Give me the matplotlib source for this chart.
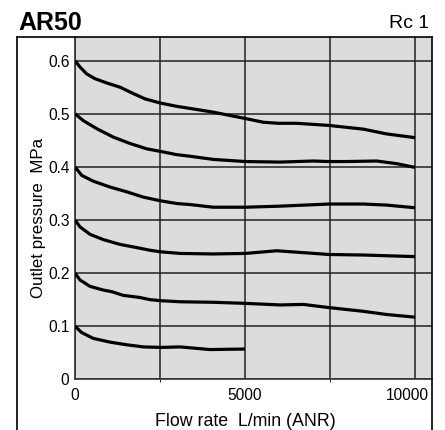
import matplotlib
matplotlib.use("Agg")
import matplotlib.pyplot as plt
import matplotlib.transforms as mtrans
from matplotlib.lines import Line2D
from matplotlib import rcParams

rcParams.update({"font.family": ["Liberation Sans", "DejaVu Sans"], "font.size": 10})

# (flow L/min, outlet pressure MPa), one curve per set pressure
flow_06 = [0, 147, 343, 588, 931, 1324, 1716, 2059, 2520, 2990, 3088, 4068, 5010, 5539, 5980,
           6520, 7471, 8480, 9167, 10000]
p_06 = [0.600, 0.588, 0.575, 0.566, 0.558, 0.550, 0.538, 0.528, 0.520, 0.514, 0.513, 0.503,
        0.491, 0.484, 0.482, 0.482, 0.478, 0.471, 0.462, 0.455]
flow_05 = [0, 245, 637, 1127, 1618, 2108, 2520, 2990, 3382, 4068, 5010, 6029, 7009, 7471, 7990,
           8873, 9461, 10000]
p_05 = [0.500, 0.487, 0.472, 0.456, 0.444, 0.434, 0.429, 0.423, 0.420, 0.414, 0.410, 0.409,
        0.411, 0.410, 0.410, 0.411, 0.406, 0.399]
flow_04 = [0, 196, 539, 1029, 1520, 2010, 2520, 2990, 3382, 4068, 5010, 6029, 7471, 8480, 9167,
           10000]
p_04 = [0.400, 0.384, 0.373, 0.362, 0.353, 0.343, 0.336, 0.331, 0.329, 0.324, 0.324, 0.326,
        0.330, 0.330, 0.328, 0.323]
flow_03 = [0, 147, 441, 833, 1324, 1814, 2206, 2520, 3088, 4068, 5010, 5931, 6814, 7471, 8480,
           10000]
p_03 = [0.300, 0.287, 0.273, 0.263, 0.254, 0.248, 0.243, 0.240, 0.237, 0.236, 0.237, 0.242,
        0.238, 0.235, 0.234, 0.231]
flow_02 = [0, 147, 441, 833, 1078, 1422, 1912, 2206, 2520, 3088, 4068, 5010, 6029, 6715, 7471,
           8480, 9167, 10000]
p_02 = [0.200, 0.187, 0.175, 0.168, 0.165, 0.158, 0.154, 0.150, 0.148, 0.146, 0.145, 0.143,
        0.140, 0.141, 0.135, 0.128, 0.122, 0.117]
flow_01 = [0, 196, 539, 1029, 1520, 2010, 2520, 3088, 3971, 5000]
p_01 = [0.100, 0.088, 0.077, 0.070, 0.065, 0.061, 0.060, 0.061, 0.056, 0.057]

curves = [(flow_06, p_06), (flow_05, p_05), (flow_04, p_04),
          (flow_03, p_03), (flow_02, p_02), (flow_01, p_01)]

W, H = 445, 430
fig = plt.figure(figsize=(W / 100, H / 100), dpi=100)
ax = fig.add_axes([75 / W, (H - 379.3) / H, (432 - 75) / W, (379.3 - 37) / H])
ax.set_facecolor("#dcdcdc")

for fx, py in curves:
    ax.plot(fx, py, color="black", lw=2.3, solid_capstyle="butt", solid_joinstyle="round", zorder=3)

ax.set_xlim(0, 10500)
ax.set_ylim(0, 0.6445)
ax.set_xticks([0, 5000, 10000])
ax.set_xticks([2500, 7500], minor=True)
ax.set_yticks([0, 0.1, 0.2, 0.3, 0.4, 0.5, 0.6])
ax.set_yticklabels(["0", "0.1", "0.2", "0.3", "0.4", "0.5", "0.6"])
ax.grid(True, which="both", color="#222222", lw=1.1, zorder=1)
ax.set_axisbelow(True)
ax.tick_params(length=0, labelsize=11.2, colors="black", pad=4)
ax.tick_params(axis="x", pad=6)
for s in ("top", "right"):
    ax.spines[s].set_visible(False)
for s in ("left", "bottom"):
    ax.spines[s].set_color("#333333")
    ax.spines[s].set_linewidth(1.2)

# last x label pulled left so it stays inside the frame
lab = ax.get_xticklabels()[-1]
lab.set_transform(lab.get_transform() + mtrans.ScaledTranslation(-8 / 100, 0, fig.dpi_scale_trans))

ax.set_xlabel("Flow rate  L/min (ANR)", fontsize=12.8)
ax.xaxis.set_label_coords(5000 / 10500, -0.097)
ax.set_ylabel("Outlet pressure  MPa", fontsize=12.2)
ax.yaxis.set_label_coords(-0.08, 0.47)

# outer frame
top = (H - 37) / H
for xs, ys in (([17 / W, 17 / W], [0, top]), ([17 / W, 432 / W], [top, top]),
               ([432 / W, 432 / W], [0, top])):
    fig.add_artist(Line2D(xs, ys, color="black", lw=1.2, transform=fig.transFigure))

fig.text(18 / W, (H - 23) / H, "AR50", fontsize=18, fontweight="bold", va="center", ha="left")
fig.text(429 / W, (H - 24) / H, "Rc 1", fontsize=14, va="center", ha="right")

fig.savefig("out.png", dpi=100)
